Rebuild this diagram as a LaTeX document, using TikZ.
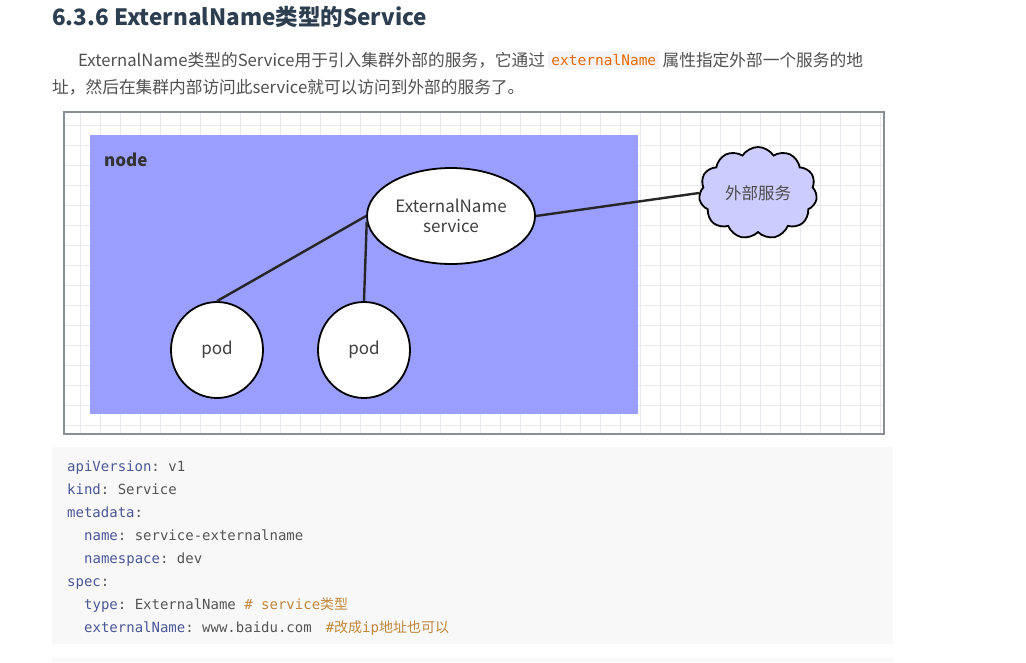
\documentclass[tikz,border=0pt]{standalone}
\usepackage{fontspec}
\setmainfont{Noto Sans CJK SC}
\setmonofont{DejaVu Sans Mono}
\newfontfamily\cjk{Noto Sans CJK SC}
\usetikzlibrary{shapes.geometric,shapes.symbols}
\definecolor{titlec}{HTML}{2C3E50}
\definecolor{bodyc}{HTML}{505050}
\definecolor{inlinec}{HTML}{E96900}
\definecolor{inlinebg}{HTML}{F4F4F6}
\definecolor{framec}{HTML}{8A8F96}
\definecolor{gridc}{HTML}{E6E8EE}
\definecolor{nodebg}{HTML}{9A9EFF}
\definecolor{cloudc}{HTML}{CCCCFF}
\definecolor{codebg}{HTML}{F8F8F9}
\definecolor{keyc}{HTML}{4A5896}
\definecolor{valc}{HTML}{555555}
\definecolor{commc}{HTML}{C0873A}
\tikzset{
  shapeline/.style={draw=black, line width=1.8pt},
  conn/.style={draw=black!85, line width=2.4pt},
  codeline/.style={anchor=base west, inner sep=0pt, font=\ttfamily\fontsize{14}{16}\selectfont, text=valc},
  difont/.style={font=\fontsize{17}{20}\selectfont, text=black!75},
  bodyfont/.style={inner sep=0pt, text=bodyc, font=\fontsize{16.7}{20}\selectfont},
}
\newcommand{\ky}[1]{\textcolor{keyc}{#1}}
\newcommand{\cm}[1]{\textcolor{commc}{#1}}
\begin{document}
\begin{tikzpicture}[x=1pt,y=-1pt]
\useasboundingbox (0,0) rectangle (1026,662);
\fill[white] (0,0) rectangle (1026,662);
% title
\node[anchor=west, inner sep=0pt, text=titlec, font=\fontsize{22.5}{26}\selectfont\bfseries] (title) at (52,17) {6.3.6 ExternalName类型的Service};
% paragraph
\node[anchor=west, bodyfont] (p1a) at (78,60) {ExternalName类型的Service用于引入集群外部的服务，它通过};
\node[anchor=west, inner sep=3pt, fill=inlinebg, text=inlinec, font=\ttfamily\fontsize{14.5}{16}\selectfont] (p1c) at ([xshift=3pt]p1a.east) {externalName};
\node[anchor=west, bodyfont] (p1b) at ([xshift=3pt]p1c.east) {属性指定外部一个服务的地};
\node[anchor=west, bodyfont] (p2) at (52,87) {址，然后在集群内部访问此service就可以访问到外部的服务了。};
% diagram frame
\fill[white] (64,112) rectangle (884,434);
\foreach \gx in {80,100,...,880} \draw[gridc, line width=0.7pt] (\gx,113) -- (\gx,433);
\foreach \gy in {125,145,...,425} \draw[gridc, line width=0.7pt] (65,\gy) -- (883,\gy);
\draw[framec, line width=1.2pt] (64,112) rectangle (884,434);
\fill[nodebg] (90,135) rectangle (638,414);
\node[anchor=west, inner sep=0pt, font=\fontsize{17}{20}\selectfont\bfseries, text=black!80] (nodelbl) at (104,160) {node};
% shapes
\node[ellipse, shapeline, fill=white, minimum width=168pt, minimum height=96pt, inner sep=0pt, align=center, difont] (es) at (451,216) {ExternalName\\service};
\node[ellipse, shapeline, fill=white, minimum width=92pt, minimum height=96pt, inner sep=0pt, difont] (pod1) at (217,350) {pod};
\node[ellipse, shapeline, fill=white, minimum width=92pt, minimum height=96pt, inner sep=0pt, difont] (pod2) at (364,350) {pod};
\node[cloud, cloud puffs=11, cloud puff arc=115, aspect=1.25, shapeline, fill=cloudc, minimum width=118pt, minimum height=92pt, inner sep=0pt, font=\fontsize{16.5}{18}\selectfont, text=black!70] (cloud) at (758,193) {外部服务};
% connectors
\draw[conn] (es.west) -- (pod1.north);
\draw[conn] (es.184) -- (pod2.north);
\draw[conn] (es.east) -- (cloud.west);
% code block
\fill[codebg] (52,447) rectangle (893,644);
\fill[codebg] (52,658) rectangle (893,662);
\node[codeline] (c1) at (67,471) {\ky{apiVersion}: v1};
\node[codeline] (c2) at (67,494) {\ky{kind}: Service};
\node[codeline] (c3) at (67,517) {\ky{metadata}:};
\node[codeline] (c4) at (84,540) {\ky{name}: service-externalname};
\node[codeline] (c5) at (84,563) {\ky{namespace}: dev};
\node[codeline] (c6) at (67,586) {\ky{spec}:};
\node[codeline] (c7) at (84,609) {\ky{type}: ExternalName \cm{\# service{\cjk 类型}}};
\node[codeline] (c8) at (84,632) {\ky{externalName}: www.baidu.com\hspace{1em}\cm{\#{\cjk 改成}ip{\cjk 地址也可以}}};
\end{tikzpicture}
\end{document}
